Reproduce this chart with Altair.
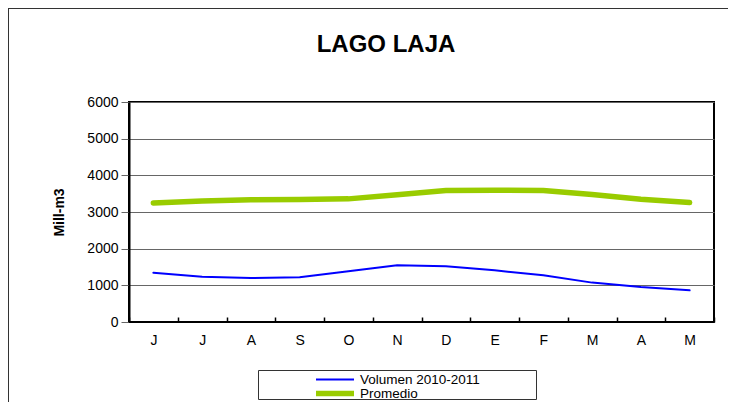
import altair as alt
import pandas as pd

chart_title = ["LAGO LAJA"]
months = ["J", "J", "A", "S", "O", "N", "D", "E", "F", "M", "A", "M"]
volumen = [1346, 1237, 1199, 1218, 1381, 1545, 1518, 1409, 1272, 1074, 954, 864]
promedio = [3248, 3303, 3331, 3339, 3358, 3468, 3587, 3595, 3587, 3477, 3347, 3256]
series_names = ["Volumen 2010-2011", "Promedio"]
series_colors = ["#0000ff", "#99cc00"]
y_ticks = [0, 1000, 2000, 3000, 4000, 5000, 6000]

rows = []
for i in range(len(months)):
    rows.append({"idx": i, "serie": series_names[0], "valor": volumen[i]})
    rows.append({"idx": i, "serie": series_names[1], "valor": promedio[i]})
df = pd.DataFrame(rows)

label_expr = "[" + ",".join("'" + m + "'" for m in months) + "][datum.value]"
FONT = "Liberation Sans"

x_axis = alt.Axis(
    title=None, labelExpr=label_expr, labelAngle=0, tickBand="extent",
    offset=-5, tickSize=5, domain=False, tickColor="black", tickWidth=1.5,
    labelPadding=11, labelFontSize=14, labelFont=FONT, labelColor="black",
    grid=False,
)
y_axis = alt.Axis(
    title="Mill-m3", values=y_ticks, format="d", tickSize=8, tickColor="#666666",
    domainColor="black", domainWidth=2, gridColor="#666666", gridWidth=1,
    labelFontSize=14, labelFont=FONT, labelColor="black", labelPadding=3,
    titleFontSize=14, titleFont=FONT, titleFontWeight="bold", titleColor="black",
    titlePadding=20, labelOverlap=False,
)
y_scale = alt.Scale(domain=[0, 6000], nice=False)

x_enc = alt.X("idx:O", scale=alt.Scale(type="band", paddingInner=0, paddingOuter=0), axis=x_axis)
y_enc = alt.Y("valor:Q", scale=y_scale, axis=y_axis)

leg = alt.Legend(
    title=None, orient="none", legendX=184, legendY=271, padding=0,
    labelFontSize=13.5, labelFont=FONT, labelColor="black", labelOffset=3,
    symbolType="stroke", symbolSize=1444, rowPadding=0, clipHeight=13,
)

lines = alt.Chart(df).mark_line(strokeCap="round").encode(
    x=x_enc,
    y=y_enc,
    color=alt.Color("serie:N", scale=alt.Scale(domain=series_names, range=series_colors), legend=leg),
    strokeWidth=alt.StrokeWidth("serie:N", scale=alt.Scale(domain=series_names, range=[2, 5.5]), legend=leg),
)

bottom = alt.Chart(alt.Data(values=[{}])).mark_rule(color="black", strokeWidth=2).encode(
    y=alt.YDatum(0, type="quantitative", scale=y_scale, axis=y_axis)
)

title_txt = alt.Chart(alt.Data(values=[{"t": chart_title[0]}])).mark_text(
    font=FONT, fontSize=24, fontWeight="bold", color="black", align="center",
    baseline="alphabetic"
).encode(text="t:N", x=alt.value(257), y=alt.value(-50))

frame_left = alt.Chart(alt.Data(values=[{}])).mark_rule(color="#333333", strokeWidth=1).encode(
    x=alt.value(-120.5), y=alt.value(-94), y2=alt.value(300)
)
frame_top = alt.Chart(alt.Data(values=[{}])).mark_rule(color="#333333", strokeWidth=1).encode(
    x=alt.value(-121), x2=alt.value(640), y=alt.value(-93.5)
)

legbox = alt.Chart(alt.Data(values=[{}])).mark_rect(
    fillOpacity=0, stroke="#333333", strokeWidth=1
).encode(
    x=alt.value(129.5), x2=alt.value(407.5), y=alt.value(268.5), y2=alt.value(297.5)
)

chart = alt.layer(frame_left, frame_top, legbox, title_txt, lines, bottom).properties(
    width=585,
    height=220,
    padding={"left": 121, "top": 94, "right": 14, "bottom": 83},
    autosize=alt.AutoSizeParams(type="none"),
).configure(font=FONT).configure_view(stroke="black", strokeWidth=2)

chart.save("out.html", embed_options={"renderer": "svg", "actions": False})
